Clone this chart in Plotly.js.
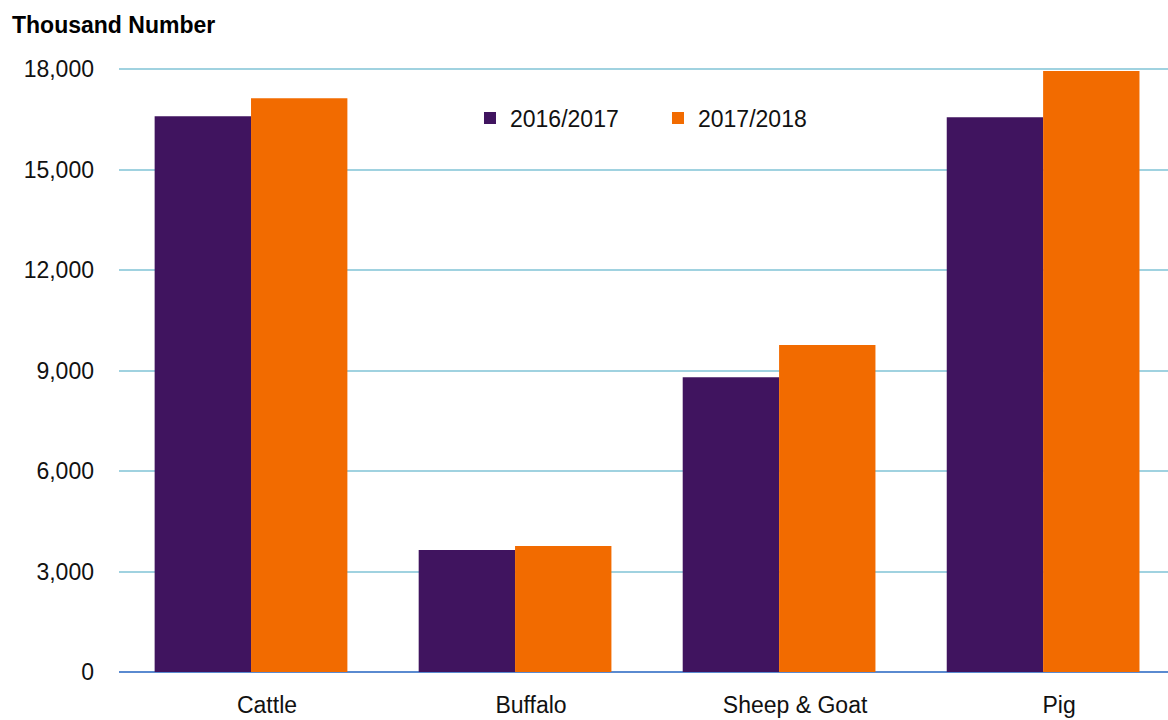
<!DOCTYPE html>
<html>
<head>
<meta charset="utf-8">
<script src="https://cdn.plot.ly/plotly-3.0.1.min.js"></script>
<style>html,body{margin:0;padding:0;background:#fff;}#chart{width:1168px;height:720px;}</style>
</head>
<body>
<div id="chart"></div>
<script>
const categories = ["Cattle", "Buffalo", "Sheep & Goat", "Pig"];
const seriesNames = ["2016/2017", "2017/2018"];
const values2016 = [16590, 3640, 8800, 16560];
const values2017 = [17130, 3760, 9760, 17940];
const yTicks = [0, 3000, 6000, 9000, 12000, 15000, 18000];

const font = "Liberation Sans, Arial, sans-serif";
const traces = [
  {type: "bar", name: seriesNames[0], x: categories, y: values2016, marker: {color: "#40145F"}},
  {type: "bar", name: seriesNames[1], x: categories, y: values2017, marker: {color: "#F26B00"}}
];
const layout = {
  width: 1168, height: 720,
  margin: {l: 119, r: 0, t: 60, b: 48},
  paper_bgcolor: "#fff", plot_bgcolor: "#fff",
  font: {family: font, size: 23, color: "#111"},
  barmode: "group", bargap: 0.27, bargroupgap: 0,
  xaxis: {range: [-0.5, 3.473], showgrid: false, zeroline: false, showline: false, ticks: "", ticklabelstandoff: 17, ticklabelshift: 16, tickfont: {size: 23}},
  yaxis: {range: [0, 18269], tickvals: yTicks, tickformat: ",", showgrid: true, gridcolor: "#A0D2E0", gridwidth: 2,
          zeroline: true, zerolinecolor: "#5A8AD0", zerolinewidth: 2, showline: false, ticks: "", ticklabelstandoff: 24, tickfont: {size: 23}},
  title: {text: "<b>Thousand Number</b>", x: 0.0103, xref: "container", xanchor: "left", y: 0.965, yref: "container", yanchor: "middle", font: {size: 23, family: font, color: "#000"}},
  legend: {orientation: "h", x: 0.3346, xanchor: "left", y: 0.905, yanchor: "middle", entrywidth: 143, entrywidthmode: "pixels", font: {size: 23}, bgcolor: "rgba(0,0,0,0)"},
  showlegend: true
};
Plotly.newPlot("chart", traces, layout, {displayModeBar: false, staticPlot: true});
</script>
</body>
</html>
